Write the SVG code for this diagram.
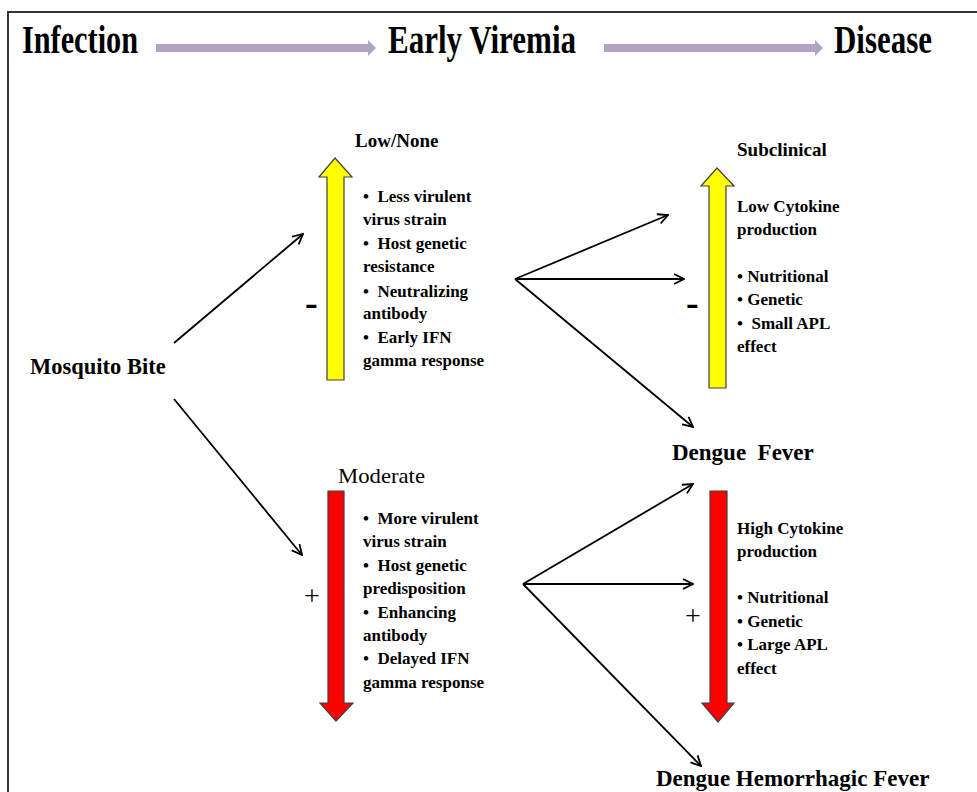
<svg xmlns="http://www.w3.org/2000/svg" width="977" height="792" viewBox="0 0 977 792">
<style>
  text { font-family: "Liberation Serif", "Times New Roman", serif; fill: #000; white-space: pre; }
  .title { font-size: 40px; font-weight: bold; }
  .b17 { font-size: 17px; font-weight: bold; }
  .b19 { font-size: 19px; font-weight: bold; }
  .b22 { font-size: 22.5px; font-weight: bold; }
  .b23 { font-size: 23px; font-weight: bold; }
  .sign { font-size: 38px; font-weight: bold; }
  .plus { font-size: 28px; }
  .conn { stroke: #000; stroke-width: 1.8; fill: none; }
  .yel { fill: #ffff00; stroke: #404040; stroke-width: 1.2; }
  .red { fill: #ff0000; stroke: #404040; stroke-width: 1.2; }
  .purp { fill: #b3a2c7; }
</style>
<defs>
  <marker id="open" viewBox="0 0 12 12" refX="11" refY="6" markerWidth="12" markerHeight="12" markerUnits="userSpaceOnUse" orient="auto">
    <path d="M1,1 L11,6 L1,11" fill="none" stroke="#000" stroke-width="1.8"/>
  </marker>
</defs>
<rect width="977" height="792" fill="#fff"/>
<!-- frame -->
<path d="M8,792 L8,12 L977,12" fill="none" stroke="#333" stroke-width="2"/>

<g id="header">
  <text class="title" x="22" y="53" textLength="116" lengthAdjust="spacingAndGlyphs">Infection</text>
  <text class="title" x="388" y="53" textLength="188" lengthAdjust="spacingAndGlyphs">Early Viremia</text>
  <text class="title" x="834" y="53" textLength="98" lengthAdjust="spacingAndGlyphs">Disease</text>
  <path class="purp" d="M156,44 L368,44 L368,40 L376,48 L368,56 L368,52 L156,52 Z"/>
  <path class="purp" d="M604,44 L815,44 L815,40 L823,48 L815,56 L815,52 L604,52 Z"/>
</g>

<g id="mosquito">
  <text class="b22" x="30" y="374">Mosquito Bite</text>
</g>

<g id="low-viremia">
  <text class="b19" x="355" y="147">Low/None</text>
  <path class="yel" d="M327,380 L327,177 L319,177 L335,158 L352,177 L344,177 L344,380 Z"/>
  <text class="sign" x="305" y="315">-</text>
  <text class="b17" x="363" y="202">•  Less virulent</text>
  <text class="b17" x="363" y="225">virus strain</text>
  <text class="b17" x="363" y="249">•  Host genetic</text>
  <text class="b17" x="363" y="272">resistance</text>
  <text class="b17" x="363" y="297">•  Neutralizing</text>
  <text class="b17" x="363" y="319">antibody</text>
  <text class="b17" x="363" y="343">•  Early IFN</text>
  <text class="b17" x="363" y="366">gamma response</text>
</g>

<g id="moderate-viremia">
  <text x="338" y="483" style="font-size:21px" textLength="87" lengthAdjust="spacingAndGlyphs">Moderate</text>
  <path class="red" d="M328,491 L344,491 L344,703 L353,703 L336,721 L320,703 L328,703 Z"/>
  <text class="plus" x="304" y="605">+</text>
  <text class="b17" x="363" y="524">•  More virulent</text>
  <text class="b17" x="363" y="547">virus strain</text>
  <text class="b17" x="363" y="571">•  Host genetic</text>
  <text class="b17" x="363" y="594">predisposition</text>
  <text class="b17" x="363" y="618">•  Enhancing</text>
  <text class="b17" x="363" y="641">antibody</text>
  <text class="b17" x="363" y="664">•  Delayed IFN</text>
  <text class="b17" x="363" y="688">gamma response</text>
</g>

<g id="subclinical">
  <text class="b19" x="737" y="156">Subclinical</text>
  <path class="yel" d="M709,388 L709,186 L701,186 L717,168 L734,186 L726,186 L726,388 Z"/>
  <text class="sign" x="686" y="315">-</text>
  <text class="b17" x="737" y="212">Low Cytokine</text>
  <text class="b17" x="737" y="235">production</text>
  <text class="b17" x="737" y="282">• Nutritional</text>
  <text class="b17" x="737" y="305">• Genetic</text>
  <text class="b17" x="737" y="329">•  Small APL</text>
  <text class="b17" x="737" y="352">effect</text>
</g>

<g id="dengue-fever">
  <text class="b23" x="672" y="460">Dengue  Fever</text>
</g>

<g id="high-cytokine">
  <path class="red" d="M710,491 L727,491 L727,703 L734,703 L718,722 L702,703 L710,703 Z"/>
  <text class="plus" x="685" y="625">+</text>
  <text class="b17" x="737" y="534">High Cytokine</text>
  <text class="b17" x="737" y="557">production</text>
  <text class="b17" x="737" y="603">• Nutritional</text>
  <text class="b17" x="737" y="627">• Genetic</text>
  <text class="b17" x="737" y="650">• Large APL</text>
  <text class="b17" x="737" y="674">effect</text>
</g>

<g id="dhf">
  <text class="b23" x="656" y="786">Dengue Hemorrhagic Fever</text>
</g>

<g id="connectors">
  <line class="conn" x1="174" y1="343" x2="303" y2="234" marker-end="url(#open)"/>
  <line class="conn" x1="174" y1="399" x2="302" y2="555" marker-end="url(#open)"/>
  <line class="conn" x1="515" y1="279" x2="668" y2="215" marker-end="url(#open)"/>
  <line class="conn" x1="515" y1="279" x2="684" y2="279" marker-end="url(#open)"/>
  <line class="conn" x1="515" y1="279" x2="693" y2="427" marker-end="url(#open)"/>
  <line class="conn" x1="523" y1="584" x2="693" y2="484" marker-end="url(#open)"/>
  <line class="conn" x1="523" y1="584" x2="693" y2="584" marker-end="url(#open)"/>
  <line class="conn" x1="523" y1="584" x2="701" y2="766" marker-end="url(#open)"/>
</g>
</svg>
